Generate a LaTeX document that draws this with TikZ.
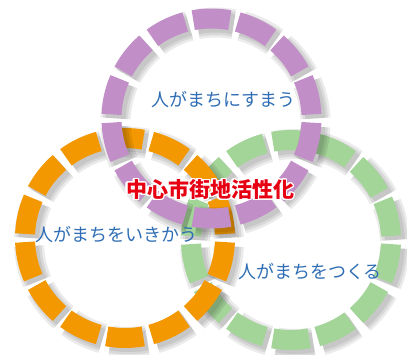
\documentclass[tikz,border=0pt]{standalone}
\usepackage{fontspec}
\setmainfont{Noto Sans CJK JP}
\usepackage{contour}
\usetikzlibrary{calc}
\definecolor{ringpurple}{RGB}{193,142,199}
\definecolor{ringorange}{RGB}{243,152,0}
\definecolor{ringgreen}{RGB}{163,212,152}
\definecolor{labelblue}{RGB}{47,110,181}
\definecolor{titlered}{RGB}{230,0,18}
\contourlength{1.3pt}
\contournumber{24}

\begin{document}
\begin{tikzpicture}[x=1pt,y=1pt]
			\tikzstyle{every node}=[font=\fontsize{18}{18}\selectfont, text=labelblue, inner sep=0pt]
			\tikzstyle{ring}=[line width=20pt]
			\tikzstyle{ringshadow}=[draw=black, opacity=0.08]
			\useasboundingbox (0,0) rectangle (407,354);
			\fill [white] (0,0) rectangle (407,354);
			% ring centres
			\coordinate (live) at (211.5,235.5);
			\coordinate (pass) at (125,116);
			\coordinate (make) at (291,114);
			% green, orange, purple: lowest to highest
			\foreach \c/\col in {make/ringgreen, pass/ringorange, live/ringpurple} {
				\foreach \k in {0,...,13} {
					\pgfmathsetmacro\a{90+\k*360/14}
					\foreach \w in {30,25,20}
						\draw [ringshadow, line width=\w pt] ($(\c)+(4,-4)$) ++(\a-10.5:100) arc [start angle=\a-10.5, end angle=\a+10.5, radius=100];
				}
				\foreach \k in {0,...,13} {
					\pgfmathsetmacro\a{90+\k*360/14}
					\draw [ring, \col] (\c) ++(\a-10.5:100) arc [start angle=\a-10.5, end angle=\a+10.5, radius=100];
				}
			}
			\node (livetext) at (223.5,254) {人がまちにすまう};
			\node (passtext) at (116,119) {人がまちをいきかう};
			\node (maketext) at (310,82) {人がまちをつくる};
			\node [font=\fontsize{21}{21}\selectfont\bfseries] (title) at (210,164) {\contour{white}{\textcolor{titlered}{中心市街地活性化}}};
		\end{tikzpicture}
\end{document}
